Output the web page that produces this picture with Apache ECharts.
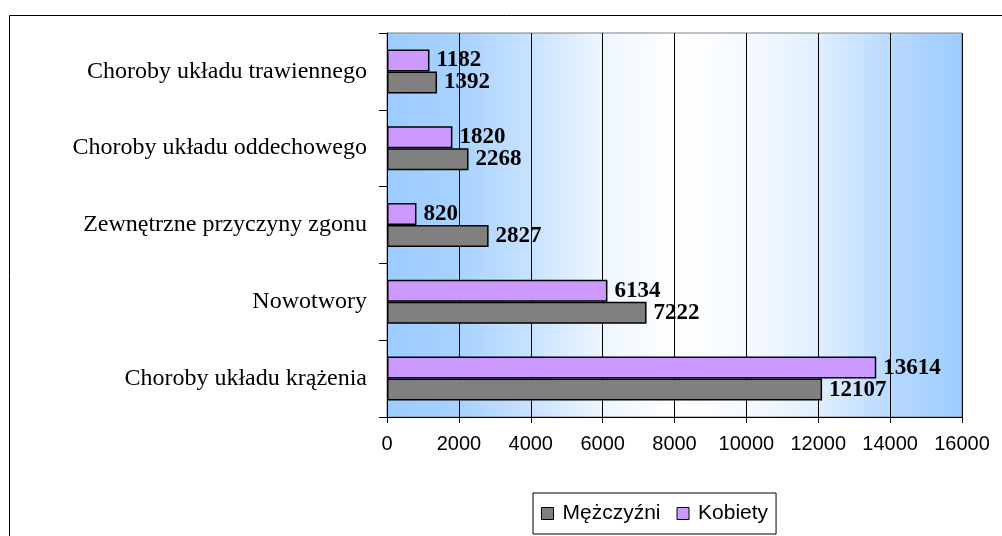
<!DOCTYPE html>
<html>
<head>
<meta charset="utf-8">
<script src="https://cdn.jsdelivr.net/npm/echarts@6/dist/echarts.min.js"></script>
<style>html,body{margin:0;padding:0;background:#fff}#c{width:1002px;height:536px}</style>
</head>
<body>
<div id="c"></div>
<script>
var categories = ['Choroby układu krążenia', 'Nowotwory', 'Zewnętrzne przyczyny zgonu', 'Choroby układu oddechowego', 'Choroby układu trawiennego'];
var men = [12107, 7222, 2827, 2268, 1392];
var women = [13614, 6134, 820, 1820, 1182];
var xTicks = [0, 2000, 4000, 6000, 8000, 10000, 12000, 14000, 16000];
var seriesNames = ['Mężczyźni', 'Kobiety'];

var chart = echarts.init(document.getElementById('c'), null, {renderer: 'canvas'});
var labelStyle = {
  show: true, position: 'right', distance: 7,
  fontFamily: 'Liberation Serif', fontWeight: 'bold', fontSize: 23, color: '#000'
};
chart.setOption({
  animation: false,
  graphic: [{
    type: 'rect', left: 7, top: 13, silent: true,
    shape: {width: 1100, height: 600},
    style: {fill: 'none', stroke: '#000', lineWidth: 1}
  }],
  grid: {
    left: 387, top: 33, width: 575, height: 384,
    show: true, borderColor: '#808080', borderWidth: 1,
    backgroundColor: new echarts.graphic.LinearGradient(0, 0, 1, 0, [
      {offset: 0, color: '#9CCCFF'},
      {offset: 0.125, color: '#A8D2FF'},
      {offset: 0.25, color: '#C8E2FF'},
      {offset: 0.375, color: '#EEF6FF'},
      {offset: 0.5, color: '#FFFFFF'},
      {offset: 0.625, color: '#F6FAFF'},
      {offset: 0.75, color: '#E0EEFF'},
      {offset: 0.875, color: '#B8D9FF'},
      {offset: 1, color: '#9CCCFF'}
    ])
  },
  legend: {
    data: seriesNames,
    left: 533, top: 493,
    orient: 'horizontal',
    icon: 'rect', itemWidth: 12, itemHeight: 12, itemGap: 16,
    padding: [10, 8, 10, 8],
    borderColor: '#000', borderWidth: 1, backgroundColor: '#fff',
    textStyle: {fontFamily: 'Liberation Sans', fontSize: 21, color: '#000', padding: [0, 0, 0, 4], lineHeight: 21},
    itemStyle: {borderColor: '#000', borderWidth: 1}
  },
  xAxis: {
    type: 'value', min: 0, max: 16000, interval: 2000,
    axisLine: {show: true, lineStyle: {color: '#000', width: 1}},
    axisTick: {show: true, length: 6, lineStyle: {color: '#000'}},
    splitLine: {show: true, lineStyle: {color: '#000', width: 1}},
    axisLabel: {
      margin: 17, fontFamily: 'Liberation Sans', fontSize: 20, color: '#000',
      formatter: function (v) { return xTicks.indexOf(v) >= 0 ? String(v) : ''; }
    }
  },
  yAxis: {
    type: 'category', data: categories,
    axisLine: {show: true, lineStyle: {color: '#000', width: 1}},
    axisTick: {show: true, length: 8, lineStyle: {color: '#000'}},
    axisLabel: {margin: 20, fontFamily: 'Liberation Serif', fontSize: 24, color: '#000'}
  },
  series: [
    {
      name: seriesNames[1], type: 'bar', data: women, barWidth: 22, barGap: '0%',
      itemStyle: {color: '#CC99FF', borderColor: '#000', borderWidth: 1.5},
      label: labelStyle
    },
    {
      name: seriesNames[0], type: 'bar', data: men, barWidth: 22, barGap: '0%',
      itemStyle: {color: '#808080', borderColor: '#000', borderWidth: 1.5},
      label: labelStyle
    }
  ]
});
</script>
</body>
</html>
